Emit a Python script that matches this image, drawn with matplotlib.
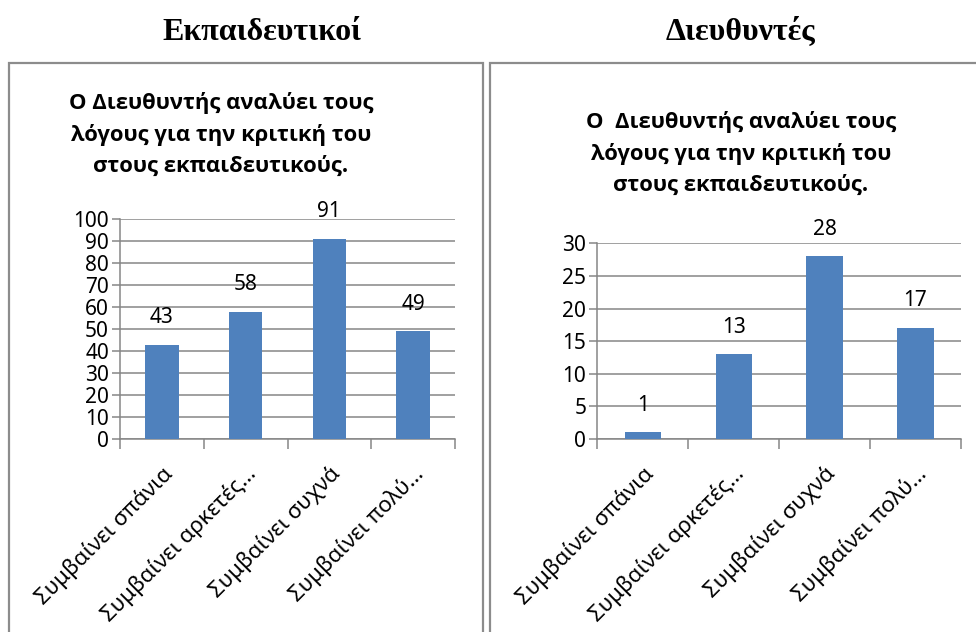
import matplotlib.pyplot as plt
from matplotlib.patches import Rectangle

# survey answers for both groups
categories = ["Συμβαίνει σπάνια", "Συμβαίνει αρκετές…", "Συμβαίνει συχνά", "Συμβαίνει πολύ…"]
teachers = [43, 58, 91, 49]
principals = [1, 13, 28, 17]

left_header = "Εκπαιδευτικοί"
right_header = "Διευθυντές"
left_title = "Ο Διευθυντής αναλύει τους\nλόγους για την κριτική του\nστους εκπαιδευτικούς."
right_title = "Ο  Διευθυντής αναλύει τους\nλόγους για την κριτική του\nστους εκπαιδευτικούς."

BAR = "#4F81BD"
GRID = "#868686"
SANS = ["Noto Sans", "DejaVu Sans"]
BOLD_SANS = ["Open Sans", "DejaVu Sans"]

plt.rcParams["font.family"] = SANS

W, H = 976, 632
fig = plt.figure(figsize=(W / 100, H / 100), dpi=100)


def fx(px):
    return px / W


def fy(py):
    return 1 - py / H


# panel frames
for x0, x1 in [(9, 483), (490, 980)]:
    fig.patches.append(Rectangle((fx(x0), fy(H + 10)), fx(x1 - x0), (H + 10 - 63) / H,
                                 transform=fig.transFigure, fill=False,
                                 edgecolor="#8c8c8c", linewidth=1.6))

fig.text(fx(262), fy(32), left_header, ha="center", va="center",
         fontsize=23, fontweight="bold", family="Liberation Serif")
fig.text(fx(740), fy(32), right_header, ha="center", va="center",
         fontsize=23, fontweight="bold", family="Liberation Serif")

fig.text(fx(221), fy(134), left_title, ha="center", va="center",
         fontsize=15.8, fontweight="bold", family=BOLD_SANS, linespacing=1.6)
fig.text(fx(741), fy(153), right_title, ha="center", va="center",
         fontsize=15.8, fontweight="bold", family=BOLD_SANS, linespacing=1.6)


def draw(rect, values, ymax, step):
    ax = fig.add_axes(rect)
    x = range(len(values))
    bars = ax.bar(x, values, width=0.4, color=BAR, zorder=3)
    for b, v in zip(bars, values):
        ax.annotate(str(v), (b.get_x() + b.get_width() / 2, v), xytext=(0, 12),
                    textcoords="offset points", ha="center", va="bottom", fontsize=15)
    ax.set_xlim(-0.5, len(values) - 0.5)
    ax.set_ylim(0, ymax)
    ax.set_yticks(range(0, ymax + 1, step))
    ax.yaxis.grid(True, color=GRID, linewidth=1.1, zorder=0)
    ax.set_axisbelow(True)
    for s in ["top", "right"]:
        ax.spines[s].set_visible(False)
    for s in ["left", "bottom"]:
        ax.spines[s].set_color(GRID)
        ax.spines[s].set_linewidth(1.1)
    ax.tick_params(axis="y", length=6, color=GRID, width=1.1, labelsize=15, pad=2)
    # category boundary ticks under the axis
    ax.set_xticks([i - 0.5 for i in range(len(values) + 1)], minor=False)
    ax.set_xticklabels([])
    ax.tick_params(axis="x", which="major", length=7, color=GRID, width=1.1)
    ax.set_xticks(list(x), minor=True)
    ax.set_xticklabels(categories, minor=True, rotation=45, ha="right",
                       rotation_mode="anchor", fontsize=16)
    ax.tick_params(axis="x", which="minor", length=0, pad=17)
    return ax


draw([fx(120), fy(439), fx(455 - 120), (439 - 219.3) / H], teachers, 100, 10)
draw([fx(597.3), fy(439), fx(961 - 597.3), (439 - 243.3) / H], principals, 30, 5)

fig.savefig("out.png", dpi=100)
